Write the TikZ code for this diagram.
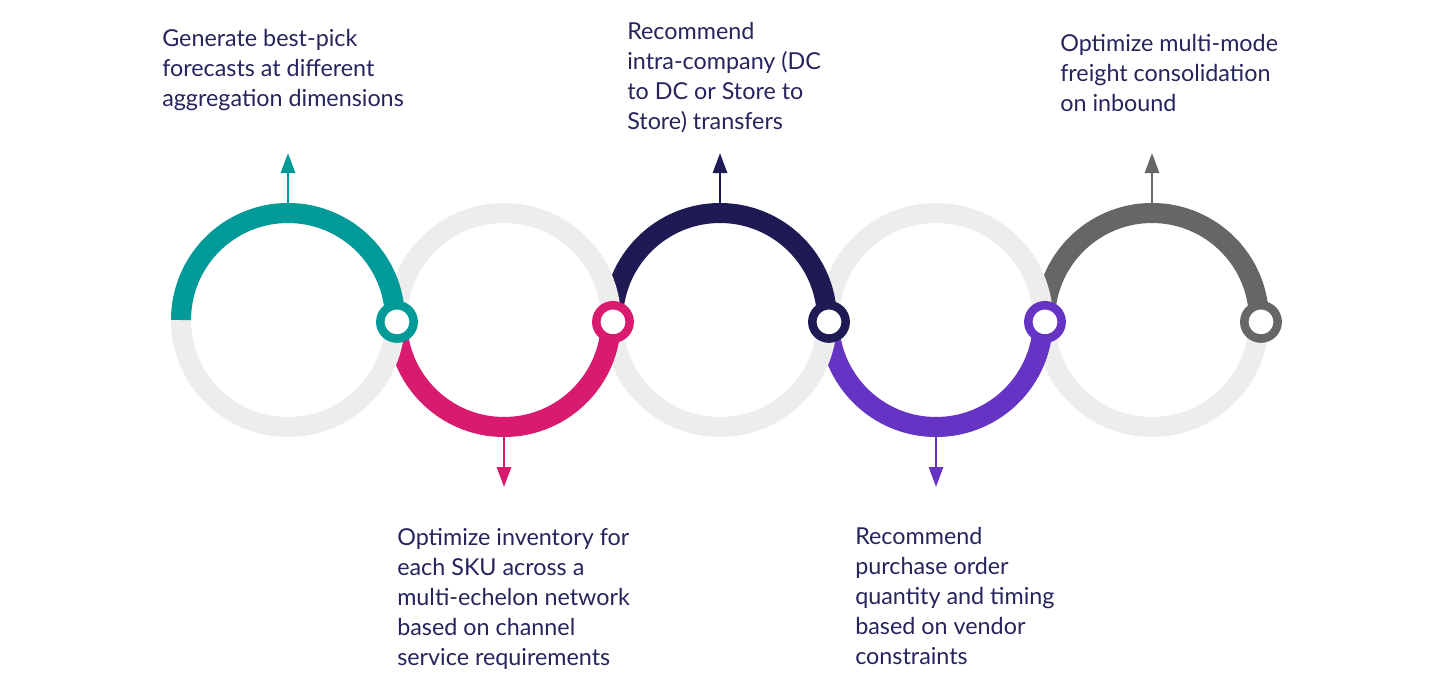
\documentclass[tikz,border=0pt]{standalone}
\usepackage{fontspec}
\setmainfont{Lato}
\usepackage{tikz}
\usetikzlibrary{arrows.meta}

\definecolor{teal}{HTML}{009B98}
\definecolor{pnk}{HTML}{D81B6E}
\definecolor{nvy}{HTML}{1E1A53}
\definecolor{prp}{HTML}{6634C4}
\definecolor{dgr}{HTML}{666666}
\definecolor{lgr}{HTML}{EDEDED}
\definecolor{txt}{HTML}{25245C}

\begin{document}
\begin{tikzpicture}[x=0.75pt,y=0.75pt,ring/.style={draw=lgr,line width=15pt},
  band/.style={draw=#1,line width=15pt},knob/.style={circle,draw=#1,fill=white,line width=6.4pt,minimum size=25pt,inner sep=0pt},
  arr/.style={#1,line width=2.2pt,-{Triangle[width=10.5pt,length=15pt]}},
  lbl/.style={anchor=base west,align=left,inner sep=0pt,text=txt,font=\fontsize{17.5}{22.5}\selectfont}]
\useasboundingbox (0,0) rectangle (1431,-674);
% right to left, so each ring lies over the next one
\foreach \i/\cc/\ea/\ang in %
{5/dgr/0/90,4/prp/360/270,3/nvy/0/90,2/pnk/360/270,1/teal/0/90} {
   \coordinate (c\i) at (72+216*\i,-320);
   \draw[ring] (c\i) circle[radius=107];
   \draw[band=\cc] (c\i) ++(180:107) arc[start angle=180,end angle=\ea,radius=107];
   \coordinate (a\i) at ([shift={(\ang:112)}]c\i);
   \coordinate (e\i) at ([shift={(\ang:167)}]c\i);
   \draw[arr=\cc] (a\i) -- (e\i);
   \node[knob=\cc] (k\i) at ([shift={(-1:109)}]c\i) {};
}
% base west sits on the last line
\node[lbl] (t1) at (162,-107) {Generate best-pick\\forecasts at different\\aggregation dimensions};
\node[lbl] (t2) at (397,-665) {Optimize inventory for\\each SKU across a\\multi-echelon network\\based on channel\\service requirements};
\node[lbl] (t3) at (627,-129) {Recommend\\intra-company (DC\\to DC or Store to\\Store) transfers};
\node[lbl] (t4) at (855,-664) {Recommend\\purchase order\\quantity and timing\\based on vendor\\constraints};
\node[lbl] (t5) at (1060,-112) {Optimize multi-mode\\freight consolidation\\on inbound};
\end{tikzpicture}
\end{document}
